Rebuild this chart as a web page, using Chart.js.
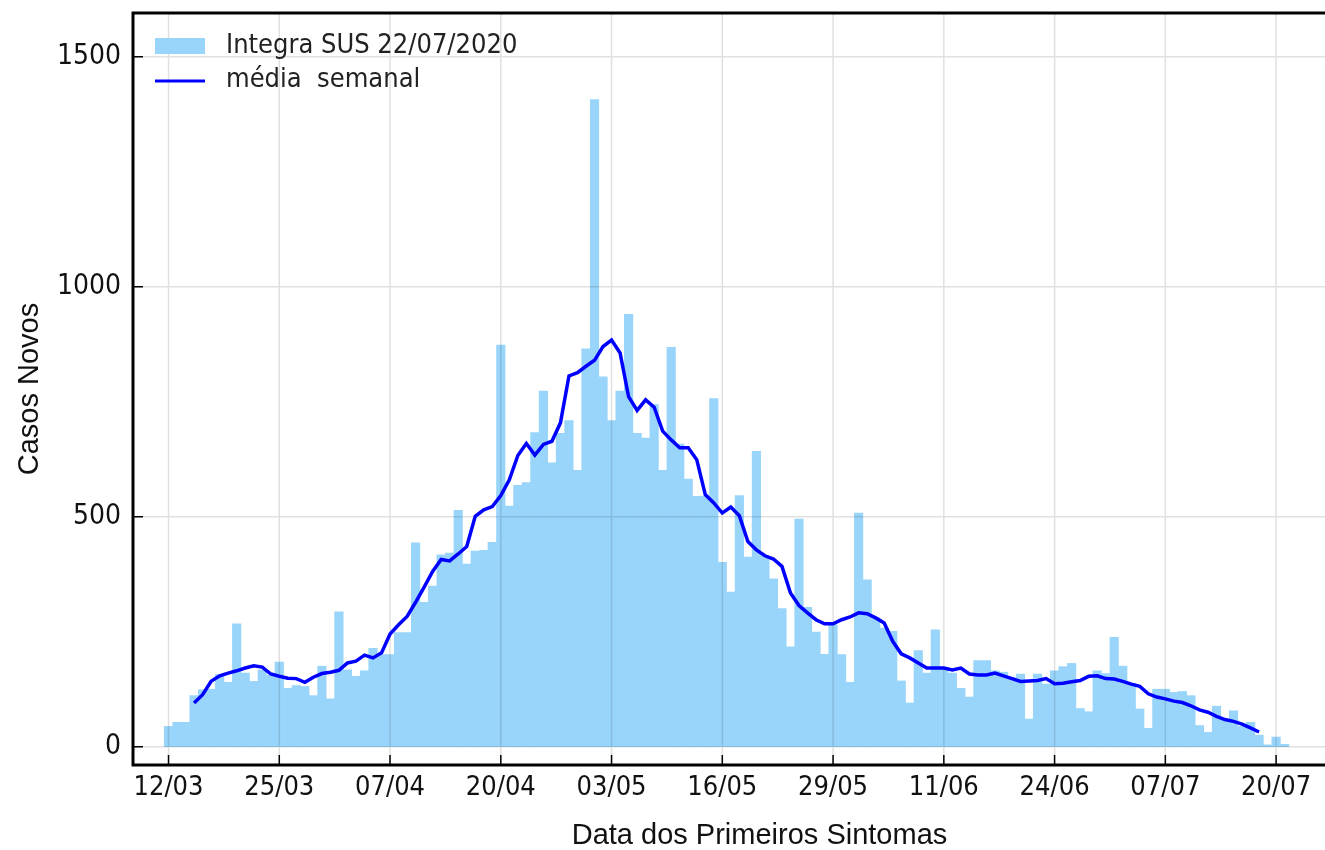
<!DOCTYPE html>
<html>
<head>
<meta charset="utf-8">
<script src="https://cdn.jsdelivr.net/npm/chart.js@4.4.0/dist/chart.umd.min.js"></script>
<style>
  html, body { margin: 0; background: #fff; overflow: hidden; }
</style>
</head>
<body>
<!-- o eixo original passa da borda direita da imagem: a tela é mais larga e fica cortada -->
<canvas id="casos" width="1400" height="850"></canvas>
<script>
// casos novos por dia de primeiros sintomas, dia 0 = 12/03
var casos = [44, 53, 53, 111, 124, 125, 157, 140, 267, 160,
  142, 167, 155, 184, 127, 133, 131, 111, 175, 104,
  293, 167, 153, 165, 214, 200, 200, 248, 248, 443,
  314, 349, 417, 421, 514, 397, 425, 427, 444, 873,
  523, 568, 574, 683, 773, 617, 681, 709, 601, 865,
  1407, 804, 709, 773, 940, 681, 671, 744, 601, 868,
  658, 582, 544, 545, 757, 401, 336, 546, 412, 642,
  415, 365, 300, 217, 495, 303, 249, 201, 265, 200,
  140, 508, 363, 280, 258, 251, 143, 95, 209, 160,
  254, 168, 160, 127, 108, 187, 187, 165, 162, 150,
  158, 60, 158, 136, 165, 174, 181, 83, 76, 165,
  159, 238, 175, 138, 82, 40, 125, 125, 118, 120,
  111, 46, 31, 88, 60, 78, 44, 53, 25, 4,
  21, 5];

// média semanal, começa no dia 3 (15/03)
var inicioMedia = 3;
var media = [95, 113, 142, 154, 160, 165, 171, 176, 173, 158,
  153, 149, 148, 140, 151, 159, 162, 166, 182, 186,
  199, 193, 204, 245, 265, 283, 314, 347, 381, 407,
  404, 419, 435, 501, 515, 522, 546, 580, 633, 659,
  634, 657, 664, 704, 806, 813, 827, 840, 870, 884,
  856, 761, 731, 754, 738, 686, 667, 650, 650, 624,
  548, 530, 508, 521, 502, 446, 428, 415, 408, 392,
  334, 307, 291, 276, 267, 267, 276, 282, 291, 289,
  280, 269, 229, 202, 193, 182, 171, 171, 171, 167,
  171, 158, 156, 156, 160, 154, 148, 142, 143, 144,
  148, 137, 138, 141, 144, 153, 154, 148, 147, 142,
  136, 131, 115, 108, 104, 99, 96, 89, 80, 75,
  66, 59, 55, 49, 41, 32];

var tickDias = [0, 13, 26, 39, 52, 65, 78, 91, 104, 117, 130];
var tickLabels = ['12/03', '25/03', '07/04', '20/04', '03/05', '16/05', '29/05', '11/06', '24/06', '07/07', '20/07'];
var yTicks = [0, 500, 1000, 1500];

var fonte = "'DejaVu Sans Condensed', 'DejaVu Sans', sans-serif";
var fonteTitulo = "'Liberation Sans', Arial, sans-serif";

// grade por cima das barras e por baixo da linha (como no matplotlib)
var grade = {
  id: 'grade',
  beforeDatasetDraw: function (chart, args) {
    if (args.meta.type !== 'line') return;
    var ctx = chart.ctx, a = chart.chartArea;
    var x = chart.scales.x, y = chart.scales.y;
    ctx.save();
    ctx.strokeStyle = 'rgba(0,0,0,0.12)';
    ctx.lineWidth = 1.5;
    ctx.beginPath();
    tickDias.forEach(function (d) {
      var px = x.getPixelForValue(d);
      ctx.moveTo(px, a.top); ctx.lineTo(px, a.bottom);
    });
    yTicks.forEach(function (v) {
      var py = y.getPixelForValue(v);
      ctx.moveTo(a.left, py); ctx.lineTo(a.right, py);
    });
    ctx.stroke();
    ctx.restore();
  }
};

// moldura, marcas para dentro e legenda
var moldura = {
  id: 'moldura',
  afterDraw: function (chart) {
    var ctx = chart.ctx, a = chart.chartArea;
    var x = chart.scales.x, y = chart.scales.y;
    var ds = chart.data.datasets;
    ctx.save();
    ctx.strokeStyle = '#000';
    ctx.lineWidth = 1.5;
    ctx.beginPath();
    tickDias.forEach(function (d) {
      var px = x.getPixelForValue(d);
      ctx.moveTo(px, a.bottom); ctx.lineTo(px, a.bottom - 10);
    });
    yTicks.forEach(function (v) {
      var py = y.getPixelForValue(v);
      ctx.moveTo(a.left, py); ctx.lineTo(a.left + 10, py);
    });
    ctx.stroke();
    ctx.lineWidth = 3;
    ctx.strokeRect(a.left, a.top, a.right - a.left, a.bottom - a.top);

    var lx = a.left + 22;
    ctx.fillStyle = ds[0].backgroundColor;
    ctx.fillRect(lx, a.top + 25, 50, 16);
    ctx.strokeStyle = ds[1].borderColor;
    ctx.lineWidth = 3;
    ctx.beginPath();
    ctx.moveTo(lx, a.top + 68); ctx.lineTo(lx + 50, a.top + 68);
    ctx.stroke();
    ctx.fillStyle = '#222';
    ctx.font = '27px ' + fonte;
    ctx.textBaseline = 'middle';
    ctx.fillText(ds[0].label, lx + 71, a.top + 33);
    ctx.fillText(ds[1].label, lx + 71, a.top + 67);
    ctx.restore();
  }
};

var ctx = document.getElementById('casos').getContext('2d');
var grafico = new Chart(ctx, {
  type: 'bar',
  data: {
    datasets: [{
      type: 'bar',
      label: 'Integra SUS 22/07/2020',
      data: casos.map(function (v, i) { return {x: i, y: v}; }),
      backgroundColor: '#99D5FA',
      borderWidth: 0,
      barPercentage: 1.0,
      categoryPercentage: 1.0,
      order: 2
    }, {
      type: 'line',
      label: 'média  semanal',
      data: media.map(function (v, i) { return {x: i + inicioMedia, y: v}; }),
      borderColor: '#0000FF',
      borderWidth: 3.5,
      pointRadius: 0,
      tension: 0,
      fill: false,
      order: 1
    }]
  },
  options: {
    responsive: false,
    animation: false,
    layout: { padding: { top: 13, right: 14, left: 0, bottom: 0 } },
    plugins: {
      legend: { display: false },
      tooltip: { enabled: false }
    },
    scales: {
      x: {
        type: 'linear',
        offset: false,
        min: -4.17,
        max: 142.9,
        grid: { display: false, drawTicks: false },
        border: { display: false },
        afterBuildTicks: function (s) { s.ticks = tickDias.map(function (d) { return {value: d}; }); },
        afterFit: function (s) { s.height = 85; s.paddingLeft = 0; s.paddingRight = 0; },
        ticks: {
          padding: 7,
          color: '#111',
          maxRotation: 0,
          autoSkip: false,
          font: { family: fonte, size: 27, lineHeight: 1.2 },
          callback: function (v) { return tickLabels[tickDias.indexOf(v)]; }
        },
        title: {
          display: true,
          text: 'Data dos Primeiros Sintomas',
          color: '#111',
          padding: { top: 0, bottom: 0 },
          font: { family: fonteTitulo, size: 29, lineHeight: 1.0 }
        }
      },
      y: {
        min: -39.8,
        max: 1595,
        grid: { display: false, drawTicks: false },
        border: { display: false },
        afterBuildTicks: function (s) { s.ticks = yTicks.map(function (v) { return {value: v}; }); },
        afterFit: function (s) { s.width = 133; s.paddingTop = 0; s.paddingBottom = 0; },
        ticks: {
          padding: 12,
          color: '#111',
          font: { family: fonte, size: 28 },
          callback: function (v) { return String(v); }
        },
        title: {
          display: true,
          text: 'Casos Novos',
          color: '#111',
          padding: { top: 15, bottom: 0 },
          font: { family: fonteTitulo, size: 29, lineHeight: 1.0 }
        }
      }
    }
  },
  plugins: [grade, moldura]
});
</script>
</body>
</html>
